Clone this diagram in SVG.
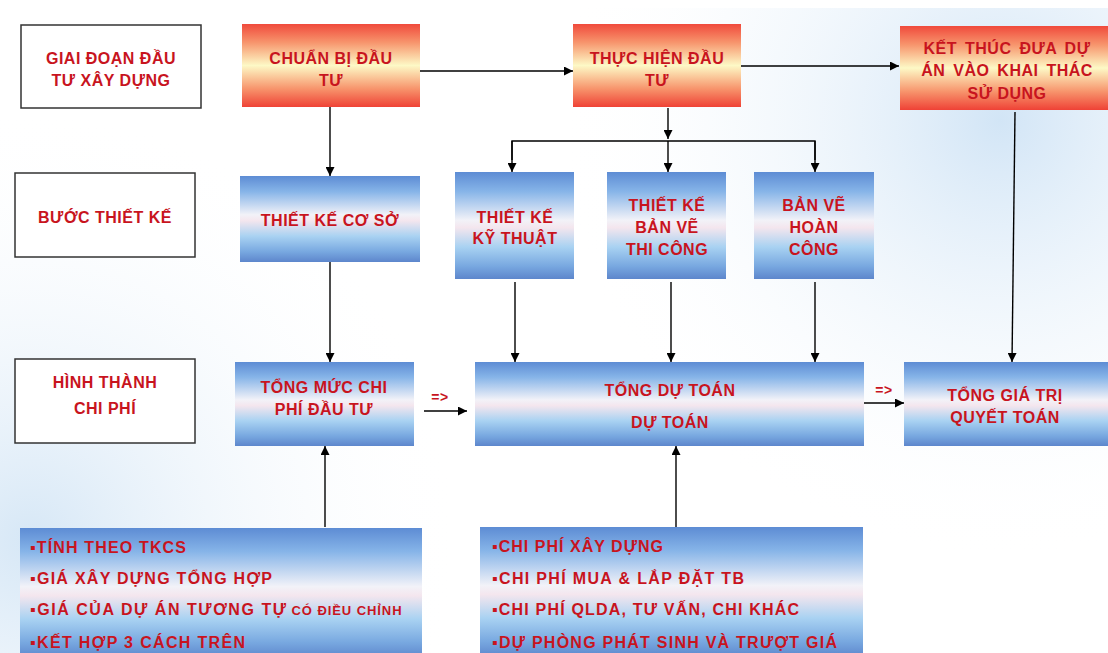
<svg xmlns="http://www.w3.org/2000/svg" width="1108" height="653" viewBox="0 0 1108 653">
<defs>
<linearGradient id="red" x1="0" y1="0" x2="0" y2="1">
<stop offset="0" stop-color="#f04a3c"/>
<stop offset="0.22" stop-color="#f7946c"/>
<stop offset="0.5" stop-color="#fdf9c6"/>
<stop offset="0.78" stop-color="#f7946c"/>
<stop offset="1" stop-color="#ef4236"/>
</linearGradient>
<linearGradient id="blue" x1="0" y1="0" x2="0" y2="1">
<stop offset="0" stop-color="#5d8cd4"/>
<stop offset="0.18" stop-color="#86b4e8"/>
<stop offset="0.45" stop-color="#f2f2f8"/>
<stop offset="0.52" stop-color="#f4e6ee"/>
<stop offset="0.7" stop-color="#a9d2f2"/>
<stop offset="0.88" stop-color="#78a8e0"/>
<stop offset="1" stop-color="#5d86cc"/>
</linearGradient>
<radialGradient id="bgR" cx="1000" cy="120" r="440" gradientUnits="userSpaceOnUse">
<stop offset="0" stop-color="#d2e5f6"/>
<stop offset="1" stop-color="#ffffff" stop-opacity="0"/>
</radialGradient>
<radialGradient id="bgL" cx="30" cy="540" r="430" gradientUnits="userSpaceOnUse">
<stop offset="0" stop-color="#d6e7f6"/>
<stop offset="1" stop-color="#ffffff" stop-opacity="0"/>
</radialGradient>
<marker id="ah" viewBox="0 0 10 10" refX="10" refY="5" markerWidth="9" markerHeight="9" markerUnits="userSpaceOnUse" orient="auto">
<path d="M0,0 L10,5 L0,10 z" fill="#000"/>
</marker>
<style>
.lbl{font-family:"Liberation Sans",Arial,sans-serif;font-weight:bold;font-size:16px;fill:#c8141e;text-anchor:middle;letter-spacing:0.5px}
.lst{font-family:"Liberation Sans",Arial,sans-serif;font-weight:bold;font-size:16px;fill:#c8141e}
.sm{font-size:13px;font-weight:bold}
.wbox{fill:#ffffff;stroke:#333;stroke-width:1.5}
.rbox{fill:url(#red)}
.bbox{fill:url(#blue)}
.con{stroke:#000;stroke-width:1.4;fill:none}
.arr{stroke:#000;stroke-width:1.4;fill:none;marker-end:url(#ah)}
</style>
</defs>
<rect x="0" y="0" width="1108" height="653" fill="#ffffff"/>
<rect x="0" y="8" width="1108" height="645" fill="url(#bgR)"/>
<rect x="0" y="8" width="1108" height="645" fill="url(#bgL)"/>

<g id="connectors">
<line class="arr" x1="420" y1="71" x2="573" y2="71"/>
<line class="arr" x1="741" y1="66" x2="899" y2="66"/>
<line class="arr" x1="330" y1="107" x2="330" y2="176"/>
<line class="arr" x1="668" y1="108" x2="668" y2="139"/>
<polyline class="con" points="512,160 512,141 815,141 815,160"/>
<line class="arr" x1="512" y1="141" x2="512" y2="172"/>
<line class="arr" x1="668" y1="141" x2="668" y2="172"/>
<line class="arr" x1="815" y1="141" x2="815" y2="172"/>
<line class="arr" x1="1015" y1="112" x2="1012" y2="362"/>
<line class="arr" x1="330" y1="262" x2="330" y2="362"/>
<line class="arr" x1="515" y1="282" x2="515" y2="362"/>
<line class="arr" x1="671" y1="282" x2="671" y2="362"/>
<line class="arr" x1="815" y1="282" x2="815" y2="362"/>
<line class="arr" x1="424" y1="411" x2="467" y2="411"/>
<line class="arr" x1="864" y1="403" x2="904" y2="403"/>
<line class="arr" x1="325" y1="527" x2="325" y2="446"/>
<line class="arr" x1="676" y1="527" x2="676" y2="446"/>
<text class="lbl" x="440" y="402" style="font-size:14px">=&gt;</text>
<text class="lbl" x="884" y="395" style="font-size:14px">=&gt;</text>
</g>

<g id="giai-doan">
<rect class="wbox" x="21" y="25" width="180" height="83"/>
<text class="lbl" x="111" y="64">GIAI ĐOẠN ĐẦU</text>
<text class="lbl" x="111" y="86">TƯ XÂY DỰNG</text>
</g>
<g id="chuan-bi">
<rect class="rbox" x="242" y="24" width="178" height="83"/>
<text class="lbl" x="331" y="64">CHUẨN BỊ ĐẦU</text>
<text class="lbl" x="331" y="86">TƯ</text>
</g>
<g id="thuc-hien">
<rect class="rbox" x="573" y="24" width="168" height="83"/>
<text class="lbl" x="657" y="64">THỰC HIỆN ĐẦU</text>
<text class="lbl" x="657" y="86">TƯ</text>
</g>
<g id="ket-thuc">
<rect class="rbox" x="900" y="26" width="208" height="84"/>
<text class="lbl" x="1007" y="54" style="word-spacing:3px">KẾT THÚC ĐƯA DỰ</text>
<text class="lbl" x="1007" y="76" style="word-spacing:3px">ÁN VÀO KHAI THÁC</text>
<text class="lbl" x="1007" y="99">SỬ DỤNG</text>
</g>

<g id="buoc-thiet-ke">
<rect class="wbox" x="15" y="173" width="180" height="84"/>
<text class="lbl" x="105" y="223">BƯỚC THIẾT KẾ</text>
</g>
<g id="thiet-ke-co-so">
<rect class="bbox" x="240" y="176" width="180" height="86"/>
<text class="lbl" x="330" y="226">THIẾT KẾ CƠ SỞ</text>
</g>
<g id="thiet-ke-ky-thuat">
<rect class="bbox" x="455" y="172" width="119" height="107"/>
<text class="lbl" x="515" y="223">THIẾT KẾ</text>
<text class="lbl" x="515" y="244">KỸ THUẬT</text>
</g>
<g id="thiet-ke-ban-ve">
<rect class="bbox" x="607" y="172" width="119" height="107"/>
<text class="lbl" x="667" y="211">THIẾT KẾ</text>
<text class="lbl" x="667" y="233">BẢN VẼ</text>
<text class="lbl" x="667" y="255">THI CÔNG</text>
</g>
<g id="ban-ve-hoan-cong">
<rect class="bbox" x="754" y="172" width="120" height="107"/>
<text class="lbl" x="814" y="211">BẢN VẼ</text>
<text class="lbl" x="814" y="233">HOÀN</text>
<text class="lbl" x="814" y="255">CÔNG</text>
</g>

<g id="hinh-thanh">
<rect class="wbox" x="15" y="359" width="180" height="84"/>
<text class="lbl" x="105" y="388">HÌNH THÀNH</text>
<text class="lbl" x="105" y="414">CHI PHÍ</text>
</g>
<g id="tong-muc">
<rect class="bbox" x="235" y="362" width="179" height="84"/>
<text class="lbl" x="324" y="393">TỔNG MỨC CHI</text>
<text class="lbl" x="324" y="415">PHÍ ĐẦU TƯ</text>
</g>
<g id="tong-du-toan">
<rect class="bbox" x="475" y="362" width="389" height="84"/>
<text class="lbl" x="670" y="396">TỔNG DỰ TOÁN</text>
<text class="lbl" x="670" y="428">DỰ TOÁN</text>
</g>
<g id="tong-gia-tri">
<rect class="bbox" x="904" y="362" width="204" height="84"/>
<text class="lbl" x="1005" y="401">TỔNG GIÁ TRỊ</text>
<text class="lbl" x="1005" y="423">QUYẾT TOÁN</text>
</g>

<g id="cach-tinh">
<rect class="bbox" x="20" y="528" width="402" height="130"/>
<text class="lst" x="30" y="553" textLength="156">▪TÍNH THEO TKCS</text>
<text class="lst" x="30" y="584" textLength="242">▪GIÁ XÂY DỰNG TỔNG HỢP</text>
<text class="lst" x="30" y="615"><tspan textLength="256">▪GIÁ CỦA DỰ ÁN TƯƠNG TỰ</tspan><tspan class="sm" dx="4" textLength="110">CÓ ĐIỀU CHỈNH</tspan></text>
<text class="lst" x="30" y="648" textLength="215">▪KẾT HỢP 3 CÁCH TRÊN</text>
</g>
<g id="chi-phi">
<rect class="bbox" x="480" y="527" width="383" height="130"/>
<text class="lst" x="492" y="552" textLength="171">▪CHI PHÍ XÂY DỰNG</text>
<text class="lst" x="492" y="584" textLength="252">▪CHI PHÍ MUA &amp; LẮP ĐẶT TB</text>
<text class="lst" x="492" y="615" textLength="307">▪CHI PHÍ QLDA, TƯ VẤN, CHI KHÁC</text>
<text class="lst" x="492" y="648" textLength="345">▪DỰ PHÒNG PHÁT SINH VÀ TRƯỢT GIÁ</text>
</g>
</svg>
